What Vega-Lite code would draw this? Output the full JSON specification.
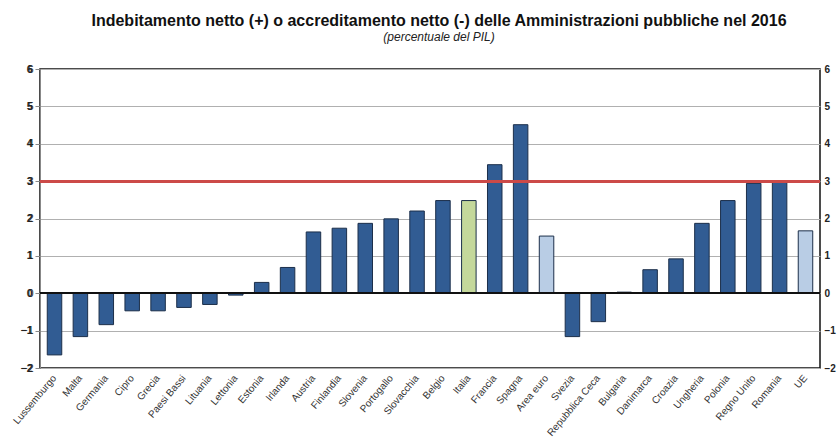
{
  "$schema": "https://vega.github.io/schema/vega-lite/v6.json",
  "width": 780,
  "height": 299,
  "autosize": {"type": "none"},
  "padding": {"left": 40, "top": 69, "right": 18, "bottom": 70},
  "background": "white",
  "title": {
    "text": "Indebitamento netto (+) o accreditamento netto (-) delle Amministrazioni pubbliche nel 2016",
    "subtitle": "(percentuale del PIL)",
    "anchor": "middle",
    "dx": 9,
    "offset": 21,
    "font": "Liberation Sans, Arial, sans-serif",
    "fontSize": 16,
    "fontWeight": "bold",
    "color": "#111111",
    "subtitleFont": "Liberation Sans, Arial, sans-serif",
    "subtitleFontSize": 12,
    "subtitleFontStyle": "italic",
    "subtitleColor": "#222222",
    "subtitlePadding": 3
  },
  "config": {
    "view": {"stroke": "#111111", "strokeWidth": 1.5},
    "axis": {
      "labelFont": "Liberation Sans, Arial, sans-serif",
      "labelColor": "#222222"
    }
  },
  "data": {
    "values": [
      {"paese": "Lussemburgo", "valore": -1.65, "tipo": "paese"},
      {"paese": "Malta", "valore": -1.16, "tipo": "paese"},
      {"paese": "Germania", "valore": -0.84, "tipo": "paese"},
      {"paese": "Cipro", "valore": -0.47, "tipo": "paese"},
      {"paese": "Grecia", "valore": -0.47, "tipo": "paese"},
      {"paese": "Paesi Bassi", "valore": -0.38, "tipo": "paese"},
      {"paese": "Lituania", "valore": -0.30, "tipo": "paese"},
      {"paese": "Lettonia", "valore": -0.05, "tipo": "paese"},
      {"paese": "Estonia", "valore": 0.29, "tipo": "paese"},
      {"paese": "Irlanda", "valore": 0.69, "tipo": "paese"},
      {"paese": "Austria", "valore": 1.64, "tipo": "paese"},
      {"paese": "Finlandia", "valore": 1.74, "tipo": "paese"},
      {"paese": "Slovenia", "valore": 1.87, "tipo": "paese"},
      {"paese": "Portogallo", "valore": 1.99, "tipo": "paese"},
      {"paese": "Slovacchia", "valore": 2.2, "tipo": "paese"},
      {"paese": "Belgio", "valore": 2.48, "tipo": "paese"},
      {"paese": "Italia", "valore": 2.48, "tipo": "italia"},
      {"paese": "Francia", "valore": 3.44, "tipo": "paese"},
      {"paese": "Spagna", "valore": 4.51, "tipo": "paese"},
      {"paese": "Area euro", "valore": 1.53, "tipo": "aggregato"},
      {"paese": "Svezia", "valore": -1.16, "tipo": "paese"},
      {"paese": "Repubblica Ceca", "valore": -0.76, "tipo": "paese"},
      {"paese": "Bulgaria", "valore": 0.03, "tipo": "paese"},
      {"paese": "Danimarca", "valore": 0.63, "tipo": "paese"},
      {"paese": "Croazia", "valore": 0.92, "tipo": "paese"},
      {"paese": "Ungheria", "valore": 1.87, "tipo": "paese"},
      {"paese": "Polonia", "valore": 2.48, "tipo": "paese"},
      {"paese": "Regno Unito", "valore": 2.94, "tipo": "paese"},
      {"paese": "Romania", "valore": 2.98, "tipo": "paese"},
      {"paese": "UE", "valore": 1.67, "tipo": "aggregato"}
    ]
  },
  "layer": [
    {
      "mark": {"type": "bar", "stroke": "#1c2f4a", "strokeWidth": 1},
      "encoding": {
        "x": {
          "field": "paese",
          "type": "nominal",
          "sort": null,
          "scale": {"paddingInner": 0.44, "paddingOuter": 0.28},
          "axis": {
            "title": null,
            "labelAngle": -50,
            "labelAlign": "right",
            "labelBaseline": "middle",
            "labelFontSize": 10,
            "labelPadding": 8,
            "labelColor": "#333333",
            "ticks": false,
            "domain": false
          }
        },
        "y": {
          "field": "valore",
          "type": "quantitative",
          "scale": {"domain": [-2, 6], "nice": false},
          "axis": {
            "title": null,
            "orient": "left",
            "values": [-2, -1, 0, 1, 2, 3, 4, 5, 6],
            "grid": true,
            "gridColor": "#b0b0b0",
            "gridWidth": 1,
            "domain": false,
            "ticks": false,
            "labelPadding": 8,
            "labelFontSize": 10.5,
            "labelFontWeight": "bold"
          }
        },
        "color": {
          "field": "tipo",
          "type": "nominal",
          "scale": {"domain": ["paese", "italia", "aggregato"], "range": ["#315c93", "#c4d89b", "#b9cde5"]},
          "legend": null
        }
      }
    },
    {
      "mark": {"type": "rule", "color": "#111111", "strokeWidth": 1.5},
      "encoding": {
        "y": {
          "datum": 0,
          "type": "quantitative",
          "axis": {
            "title": null,
            "orient": "right",
            "values": [-2, -1, 0, 1, 2, 3, 4, 5, 6],
            "grid": false,
            "domain": false,
            "ticks": false,
            "labelPadding": 4,
            "labelFontSize": 10,
            "labelFontWeight": "bold"
          }
        }
      }
    },
    {
      "mark": {"type": "rule", "color": "#cc4a48", "strokeWidth": 2.5},
      "encoding": {"y": {"datum": 3, "type": "quantitative"}}
    }
  ],
  "resolve": {"axis": {"y": "independent"}}
}
